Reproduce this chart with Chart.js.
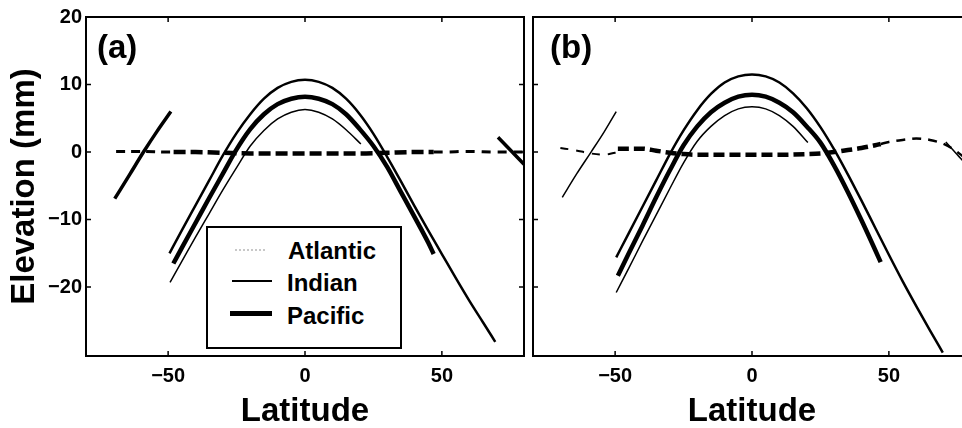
<!DOCTYPE html>
<html>
<head>
<meta charset="utf-8">
<script src="https://cdn.jsdelivr.net/npm/chart.js@4"></script>
<style>
html,body{margin:0;padding:0;background:#fff;overflow:hidden;width:962px;height:428px;}
#wrap{position:relative;width:962px;height:428px;overflow:hidden;background:#fff;}
canvas{position:absolute;top:0;}
#ca{left:0;}
#cb{left:490px;}
.panel{position:absolute;top:30px;font:bold 33px "Liberation Sans",Arial,sans-serif;line-height:1;color:#000;}
#legend{position:absolute;left:206px;top:226px;width:196px;height:123px;border:2px solid #000;box-sizing:border-box;background:#fff;font:bold 24px "Liberation Sans",Arial,sans-serif;color:#000;}
#legend .t{position:absolute;line-height:24px;white-space:nowrap;}
#legend .l{position:absolute;height:0;}
</style>
</head>
<body>
<div id="wrap">
<canvas id="ca" width="530" height="428"></canvas>
<canvas id="cb" width="490" height="428"></canvas>
<div class="panel" style="left:97px">(a)</div>
<div class="panel" style="left:550px">(b)</div>
<div id="legend">
  <div class="l" style="left:27px;top:21px;width:30px;border-top:2px dotted #c8c8c8;"></div>
  <div class="t" style="left:80px;top:11px;">Atlantic</div>
  <div class="l" style="left:24px;top:52px;width:40px;border-top:2px solid #000;"></div>
  <div class="t" style="left:79px;top:43px;">Indian</div>
  <div class="l" style="left:22px;top:83px;width:42px;border-top:5px solid #000;"></div>
  <div class="t" style="left:79px;top:76px;">Pacific</div>
</div>
</div>
<script>
// ---------- tick values and labels ----------
const xTickValues = [-50, 0, 50];
const yTickValues = [-20, -10, 0, 10, 20];
const xTitle = 'Latitude';
const yTitle = 'Elevation (mm)';

// ---------- panel (a) ----------
const latAtlanticA  = [-49.5,-45,-40,-35,-30,-25,-20,-15,-10,-5,0,5,10,15,20,25,30,35,40,45,50,55,60,65,69.5];
const elevAtlanticA = [-15.0,-11.6,-7.9,-4.2,-0.5,2.8,5.6,7.9,9.5,10.4,10.7,10.4,9.5,7.9,5.6,2.7,-0.7,-4.3,-8.0,-11.6,-15.1,-18.6,-22.0,-25.2,-28.1];
const latPacificA   = [-48.1,-45,-40,-35,-30,-25,-20,-15,-10,-5,0,5,10,15,20,25,30,35,40,45,47];
const elevPacificA  = [-16.5,-14.2,-10.5,-6.8,-3.2,0.4,3.4,5.6,7.1,7.9,8.2,7.9,7.1,5.6,3.4,0.9,-2.2,-5.9,-9.6,-13.4,-15.1];
const latIndianA    = [-49.3,-45,-40,-35,-30,-25,-20,-15,-10,-5,0,5,10,15,20.4];
const elevIndianA   = [-19.3,-16.2,-12.6,-9.1,-5.6,-2.3,0.9,3.2,4.9,5.9,6.3,5.9,4.9,3.3,1.2];
const latSouthA     = [-69.5,-64,-59,-54,-49];
const elevSouthA    = [-6.9,-3.3,0.0,3.1,6.0];
const latNorthA     = [70.5,75,80];
const elevNorthA    = [2.2,0.3,-1.8];
const latDashLeftA  = [-69,-60,-50,-48];
const elevDashLeftA = [0.1,0.1,0.0,0.0];
const latDashMidA   = [-48,-40,-30,-20,-10,0,10,20,30,40,47];
const elevDashMidA  = [0.0,0.0,-0.1,-0.2,-0.2,-0.2,-0.2,-0.2,-0.1,0.0,0.0];
const latDashRightA = [47,50,60,70,80];
const elevDashRightA= [0.0,0.0,0.1,0.0,0.0];

// ---------- panel (b) ----------
const latAtlanticB  = [-49.6,-45,-40,-35,-30,-25,-20,-15,-10,-5,0,5,10,15,20,25,30,35,40,45,50,55,60,65,69.7];
const elevAtlanticB = [-15.6,-12.0,-8.1,-4.2,-0.3,3.2,6.2,8.6,10.3,11.2,11.5,11.2,10.3,8.7,6.5,3.7,0.4,-3.3,-7.2,-11.2,-15.2,-19.1,-22.8,-26.4,-29.7];
const latPacificB   = [-49,-45,-40,-35,-30,-25,-20,-15,-10,-5,0,5,10,15,20,25,30,35,40,45,47];
const elevPacificB  = [-18.3,-15.0,-10.9,-6.7,-2.7,1.0,3.8,5.9,7.3,8.2,8.5,8.2,7.3,5.9,3.8,1.4,-2.0,-5.9,-10.1,-14.5,-16.3];
const latIndianB    = [-49.6,-45,-40,-35,-30,-25,-20,-15,-10,-5,0,5,10,15,20.4];
const elevIndianB   = [-20.8,-17.2,-13.2,-9.3,-5.4,-1.6,1.6,3.8,5.4,6.4,6.7,6.4,5.4,3.8,1.4];
const latSouthB     = [-69.3,-64,-58.8,-54,-49.6];
const elevSouthB    = [-6.7,-3.2,0.0,3.0,6.0];
const latNorthB     = [70.8,75,80];
const elevNorthB    = [1.5,-0.4,-2.6];
const latDashLeftB  = [-70,-65,-59,-54,-50,-47];
const elevDashLeftB = [0.6,0.3,-0.2,-0.4,-0.1,0.1];
const latDashMidB   = [-49,-45,-40,-35,-30,-25,-20,-10,0,10,20,25,30,35,40,45,47];
const elevDashMidB  = [0.5,0.5,0.5,0.2,-0.1,-0.3,-0.4,-0.4,-0.4,-0.4,-0.3,-0.2,0.0,0.3,0.6,1.0,1.2];
const latDashRightB = [47,50,55,60,65,70,74,77,80];
const elevDashRightB= [1.2,1.5,1.8,2.0,1.8,1.2,0.3,-0.6,-1.3];

// ---------- helpers ----------
const FONT = '"Liberation Sans", Arial, Helvetica, sans-serif';
function pts(lats, vals){ return lats.map((x,i)=>({x:x, y:vals[i]})); }
function ds(label, lats, vals, width, dash){
  return {label:label, data:pts(lats, vals), borderColor:'#000', backgroundColor:'#000',
          borderWidth:width, borderDash:dash||[], showLine:true, pointRadius:0, fill:false,
          tension:0.4, cubicInterpolationMode:'monotone', borderCapStyle:'butt'};
}
function fmt(v){ return v < 0 ? '\u2212' + Math.abs(v) : String(v); }

const framePlugin = {
  id:'frame',
  afterDatasetsDraw(chart){
    const {ctx, chartArea:a, scales:{x, y}} = chart;
    ctx.save();
    ctx.strokeStyle = '#000';
    ctx.lineWidth = 2;
    ctx.strokeRect(a.left, a.top, a.right - a.left, a.bottom - a.top);
    ctx.lineWidth = 1.5;
    const tl = 5;
    ctx.beginPath();
    xTickValues.forEach(v => {
      const px = x.getPixelForValue(v);
      ctx.moveTo(px, a.bottom); ctx.lineTo(px, a.bottom - tl);
      ctx.moveTo(px, a.top); ctx.lineTo(px, a.top + tl);
    });
    yTickValues.forEach(v => {
      const py = y.getPixelForValue(v);
      ctx.moveTo(a.left, py); ctx.lineTo(a.left + tl, py);
      ctx.moveTo(a.right, py); ctx.lineTo(a.right - tl, py);
    });
    ctx.stroke();
    ctx.restore();
  }
};

function makePanel(id, datasets, showY, padL, padR){
  return new Chart(document.getElementById(id), {
    type:'scatter',
    data:{datasets:datasets},
    plugins:[framePlugin],
    options:{
      responsive:false, animation:false, devicePixelRatio:1,
      layout:{padding:{left:padL, right:padR, top:17, bottom:0}},
      plugins:{legend:{display:false}, tooltip:{enabled:false}},
      elements:{point:{radius:0}},
      scales:{
        x:{type:'linear', min:-80, max:80,
           afterBuildTicks:s=>{ s.ticks = xTickValues.map(v=>({value:v})); },
           afterFit:s=>{ s.height = 72; },
           grid:{display:false, drawTicks:false}, border:{display:false},
           ticks:{autoSkip:false, maxRotation:0, padding:8, color:'#000',
                  font:{family:FONT, size:20, weight:'bold'}, callback:fmt},
           title:{display:true, text:xTitle, color:'#000',
                  font:{family:FONT, size:33, weight:'bold', lineHeight:1}, padding:{top:0, bottom:0}}},
        y:{type:'linear', min:-30.2, max:20, display:showY,
           afterBuildTicks:s=>{ s.ticks = yTickValues.map(v=>({value:v})); },
           afterFit:s=>{ s.width = showY ? 86 : 0; },
           grid:{display:false, drawTicks:false}, border:{display:false},
           ticks:{autoSkip:false, padding:4, color:'#000',
                  font:{family:FONT, size:20, weight:'bold'}, callback:fmt},
           title:{display:true, text:yTitle, color:'#000',
                  font:{family:FONT, size:33, weight:'bold', lineHeight:1}, padding:{top:8, bottom:0}}}
      }
    }
  });
}

makePanel('ca', [
  ds('Zero line south', latDashLeftA, elevDashLeftA, 3, [9,6]),
  ds('Zero line', latDashMidA, elevDashMidA, 4.5, [12,5]),
  ds('Zero line north', latDashRightA, elevDashRightA, 3, [9,7]),
  ds('Atlantic', latAtlanticA, elevAtlanticA, 2.5),
  ds('Pacific', latPacificA, elevPacificA, 4.5),
  ds('Indian', latIndianA, elevIndianA, 1.5),
  ds('South', latSouthA, elevSouthA, 3.5),
  ds('North', latNorthA, elevNorthA, 3.5)
], true, 0, 6);

makePanel('cb', [
  ds('Zero line south', latDashLeftB, elevDashLeftB, 2, [8,8]),
  ds('Zero line', latDashMidB, elevDashMidB, 4.5, [11,5]),
  ds('Zero line north', latDashRightB, elevDashRightB, 2.5, [9,7]),
  ds('Atlantic', latAtlanticB, elevAtlanticB, 2.5),
  ds('Pacific', latPacificB, elevPacificB, 4.5),
  ds('Indian', latIndianB, elevIndianB, 1.5),
  ds('South', latSouthB, elevSouthB, 1.5),
  ds('North', latNorthB, elevNorthB, 1.5)
], false, 43, 9);
</script>
</body>
</html>
